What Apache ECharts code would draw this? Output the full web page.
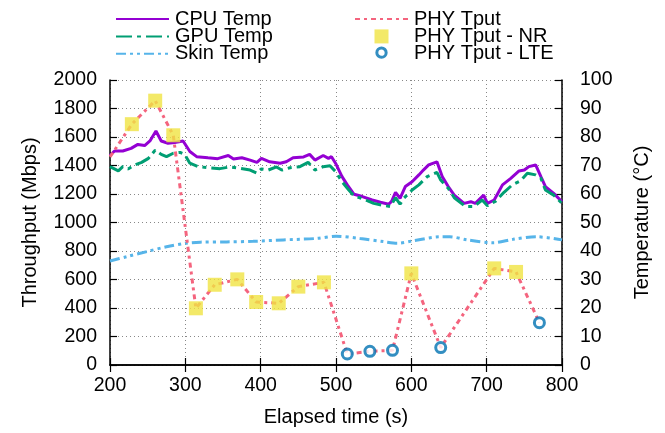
<!DOCTYPE html>
<html>
<head>
<meta charset="utf-8">
<script src="https://cdn.jsdelivr.net/npm/echarts@6/dist/echarts.min.js"></script>
<style>html,body{margin:0;padding:0;background:#fff}#c{width:665px;height:433px}</style>
</head>
<body>
<div id="c"></div>
<script>
const cpuTime = [200,206,217,228,237,246,253,261,268,277,286,297,306,315,330,343,357,364,375,386,395,401,412,426,434,443,457,465,472,483,490,494,500,508,515,524,535,548,559,570,574,579,585,592,601,610,616,623,634,641,649,657,670,679,685,696,701,710,721,732,743,750,756,765,772,778,789,800];
const cpuTemp = [73.5,75.1,75.1,76,77.4,77,78.6,82.1,78.6,77.8,78.1,78.6,74.9,73.1,72.7,72.4,73.5,72.3,72.7,71.9,71.1,72.5,71.3,70.8,71.3,72.7,73,73.9,71.9,73.5,72.5,73.1,70.5,66.1,63.2,59.9,59.1,57.9,57.1,56.4,57.5,60.6,58.5,62.6,64.3,66.7,68.4,70.2,71.3,66.1,62.6,59.6,56.7,57.3,56.7,59.6,56.7,57.9,63.2,65.5,68.1,68.4,69.6,70.2,66.1,62.6,60.2,57.3];
const gpuTime = [200,211,217,224,233,242,251,260,268,275,284,293,299,306,317,330,346,359,373,386,395,401,410,421,428,439,452,463,472,483,492,500,508,517,524,537,550,561,572,579,585,590,601,610,621,634,639,649,657,672,683,694,701,712,723,734,745,754,765,772,778,789,800];
const gpuTemp = [69.6,68.1,69.6,68.8,70.2,71.1,72.5,75.4,73.9,73.1,74.3,74.6,73.9,70.8,69.6,69.2,68.9,69.5,69,68.4,67.3,68.8,68.4,69.5,68.4,69.2,69.6,71.1,68.4,69.6,69.9,67.7,64.3,61.4,59.3,58.2,56.7,56.1,55.6,58.7,56.4,58.5,61.4,63.2,66.1,67.6,64.9,62,58.7,55.6,55.6,57.9,55.9,57.5,60.6,63.2,64.6,67.3,66.7,65.5,61.4,59.6,56.7];
const skinTime = [200,222,249,275,300,320,355,390,430,474,500,532,563,581,603,638,651,674,709,735,766,800];
const skinTemp = [36.5,38,39.8,41.5,42.7,43.1,43.2,43.4,43.9,44.4,45.2,44.4,43.3,42.7,43.6,45,45,43.9,42.9,44.1,45,43.9];
const phyTime = [200,229,260,284,314,339,369,394,424,450,484,515,545,575,600,639,710,739,770];
const phyTput = [1460,1690,1855,1612,398,563,601,442,433,550,580,77,96,103,643,122,678,653,297];
const nrTime = [229,260,284,314,339,369,394,424,450,484,600,710,739];
const nrTput = [1690,1855,1612,398,563,601,442,433,550,580,643,678,653];
const lteTime = [515,545,575,639,770];
const lteTput = [77,96,103,122,297];
const xTicks = {min:200, max:800, interval:100};
const yTicks = {min:0, max:2000, interval:200};
const y2Ticks = {min:0, max:100, interval:10};

const zip = (a,b) => a.map((v,i)=>[v,b[i]]);
const FONT = 'Liberation Sans';
const chart = echarts.init(document.getElementById('c'), null, {renderer:'canvas'});
const axisLine = {show:true, lineStyle:{color:'#000', width:1.5}};
const tick = {show:true, inside:true, length:7, lineStyle:{color:'#000', width:1.2}};
const lbl = {color:'#000', fontSize:20, fontFamily:FONT};
const tlbl = {color:'#000', fontSize:19.5, fontFamily:FONT};
const plain = v => String(v);
const hide = {opacity:0, color:'rgba(0,0,0,0)', borderWidth:0};
const legText = {fontSize:20, fontFamily:FONT, color:'#000', padding:[0,0,0,1]};
chart.setOption({
  animation:false,
  grid:{left:110, right:103, top:80, bottom:68},
  legend:[
    {orient:'vertical', left:110, top:4, itemWidth:53, itemHeight:14, itemGap:-2.6, textStyle:legText,
     data:[{name:'CPU Temp', itemStyle:hide},{name:'GPU Temp', itemStyle:hide},{name:'Skin Temp', itemStyle:hide}]},
    {orient:'vertical', left:349, top:4, itemWidth:53, itemHeight:14, itemGap:-2.6, textStyle:legText,
     symbolKeepAspect:true,
     data:[{name:'PHY Tput', itemStyle:hide},
           {name:'PHY Tput - NR', icon:'path://M0,0H10V10H0Z'},
           {name:'PHY Tput - LTE', icon:'path://M0,0M6,1A4,4,0,1,1,5.99,1ZM0,0M12,12', itemStyle:{color:'#fff', borderColor:'#0072b2', borderWidth:3}}]}
  ],
  xAxis:[
    {type:'value', ...xTicks, position:'bottom', axisLine, axisTick:tick,
     axisLabel:{...tlbl, margin:11, formatter:plain}, name:'Elapsed time (s)', nameLocation:'middle', nameGap:42,
     nameTextStyle:{...lbl},
     splitLine:{show:true, lineStyle:{color:'#888', width:1, type:[1,3]}}},
    {type:'value', ...xTicks, position:'top', axisLine, axisTick:tick,
     axisLabel:{show:false}, splitLine:{show:false}}
  ],
  yAxis:[
    {type:'value', ...yTicks, position:'left', axisLine, axisTick:tick,
     axisLabel:{...tlbl, margin:13, formatter:plain}, name:'Throughput (Mbps)', nameLocation:'middle', nameGap:70,
     nameRotate:90, nameTextStyle:{...lbl},
     splitLine:{show:true, lineStyle:{color:'#888', width:1, type:[1,3]}}},
    {type:'value', ...y2Ticks, position:'right', axisLine, axisTick:tick,
     axisLabel:{...tlbl, margin:18, formatter:plain}, name:'Temperature (°C)', nameLocation:'middle', nameGap:70,
     nameRotate:90, nameTextStyle:{...lbl}, splitLine:{show:false}}
  ],
  series:[
    {name:'CPU Temp', type:'line', yAxisIndex:1, data:zip(cpuTime,cpuTemp), symbol:'none',
     color:'#9400d3', lineStyle:{color:'#9400d3', width:3}, z:2},
    {name:'GPU Temp', type:'line', yAxisIndex:1, data:zip(gpuTime,gpuTemp), symbol:'none',
     color:'#009e73', lineStyle:{color:'#009e73', width:3, type:[16,5,4,5]}, z:2},
    {name:'Skin Temp', type:'line', yAxisIndex:1, data:zip(skinTime,skinTemp), symbol:'none', smooth:0.3,
     color:'#56b4e9', lineStyle:{color:'#56b4e9', width:3, type:[10,4,3,4,3,4]}, z:2},
    {name:'PHY Tput', type:'line', yAxisIndex:0, data:zip(phyTime,phyTput), symbol:'none',
     color:'#f4647e', lineStyle:{color:'#f4647e', width:3, type:[5,4,3,4]}, z:3},
    {name:'PHY Tput - NR', type:'scatter', yAxisIndex:0, data:zip(nrTime,nrTput), symbol:'rect', symbolSize:14,
     color:'#f0e442', itemStyle:{color:'#f0e442'}, z:4},
    {name:'PHY Tput - LTE', type:'scatter', yAxisIndex:0, data:zip(lteTime,lteTput), symbol:'circle', symbolSize:10,
     color:'#0072b2', itemStyle:{color:'#fff', borderColor:'#0072b2', borderWidth:3}, z:4}
  ]
});
</script>
</body>
</html>
